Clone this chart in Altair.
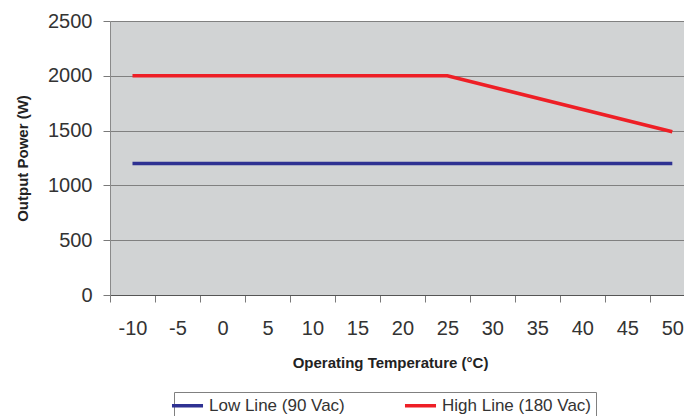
import altair as alt
import pandas as pd

series_names = ["Low Line (90 Vac)", "High Line (180 Vac)"]
series_colors = ["#2e3192", "#ee1f26"]

temps_low = [-10, 50]
power_low = [1200, 1200]

temps_high = [-10, 25, 50]
power_high = [2000, 2000, 1490]

x_labels = [-10, -5, 0, 5, 10, 15, 20, 25, 30, 35, 40, 45, 50]
x_bounds = [-12.5, -7.5, -2.5, 2.5, 7.5, 12.5, 17.5, 22.5, 27.5, 32.5, 37.5, 42.5, 47.5]
y_ticks = [0, 500, 1000, 1500, 2000, 2500]

rows = []
for t, p in zip(temps_low, power_low):
    rows.append({"temp": t, "power": p, "series": series_names[0]})
for t, p in zip(temps_high, power_high):
    rows.append({"temp": t, "power": p, "series": series_names[1]})
df = pd.DataFrame(rows)

axis_values = sorted(x_labels + x_bounds)

FONT = "Liberation Sans"

chart = alt.Chart(df).mark_line(strokeWidth=3.5).encode(
    x=alt.X(
        "temp:Q",
        scale=alt.Scale(domain=[-12.5, 51.3], nice=False, zero=False),
        axis=alt.Axis(
            values=axis_values,
            labelExpr="abs(datum.value % 5) < 0.1 ? '' + datum.value : ''",
            tickColor={"condition": {"test": "abs(datum.value % 5) < 0.1", "value": "transparent"}, "value": "#7a7a7a"},
            tickSize=7,
            grid=False,
            labelOverlap=False,
            labelFlush=False,
            labelFontSize=20,
            labelColor="#333333",
            labelFont=FONT,
            labelBaseline="alphabetic",
            labelPadding=32,
            domainColor="#555555",
            title="Operating Temperature (°C)",
            titleFont=FONT,
            titleFontSize=15,
            titleFontWeight="bold",
            titleColor="#222222",
            titleX=280,
            titleY=72,
            titleAlign="center",
            titleBaseline="alphabetic",
        ),
    ),
    y=alt.Y(
        "power:Q",
        scale=alt.Scale(domain=[0, 2500], nice=False),
        axis=alt.Axis(
            values=y_ticks,
            format="d",
            tickSize=7,
            tickColor="#7a7a7a",
            grid=True,
            gridColor="#808080",
            gridOpacity=1,
            domainColor="#8a8a8a",
            labelFontSize=20,
            labelColor="#333333",
            labelFont=FONT,
            labelPadding=11,
            title="Output Power (W)",
            titleFont=FONT,
            titleFontSize=15,
            titleFontWeight="bold",
            titleColor="#222222",
            titleAngle=270,
            titleX=-83,
            titleY=137,
            titleAlign="center",
            titleBaseline="alphabetic",
        ),
    ),
    color=alt.Color(
        "series:N",
        scale=alt.Scale(domain=series_names, range=series_colors),
        legend=alt.Legend(
            title=None,
            orient="none",
            legendX=64,
            legendY=371,
            direction="horizontal",
            symbolType="M-3,0H3",
            symbolSize=107,
            symbolStrokeWidth=3.5,
            labelFontSize=17,
            labelFont=FONT,
            labelColor="#333333",
            labelOffset=13,
            columnPadding=52,
            padding=5,
            strokeColor="#808080",
        ),
    ),
).properties(
    width=574,
    height=274,
    autosize=alt.AutoSizeParams(type="none"),
    padding={"left": 102, "top": 13, "right": 0, "bottom": 121},
    background="white",
).configure_view(
    fill="#d1d3d4",
    stroke="transparent",
)

chart.save("out.html", embed_options={"renderer": "svg", "actions": False})
